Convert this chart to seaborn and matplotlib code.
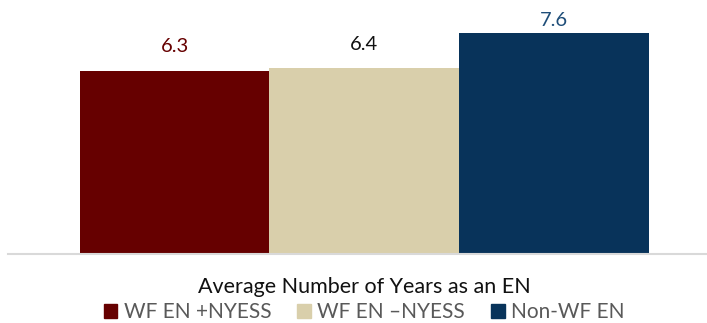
import numpy as np
import pandas as pd
import matplotlib
matplotlib.use("Agg")
import matplotlib.pyplot as plt
import seaborn as sns

category = ["Average Number of Years as an EN"]
groups = ["WF EN +NYESS", "WF EN \u2013NYESS", "Non-WF EN"]
values = [6.3, 6.4, 7.6]
colors = ["#660000", "#D9CFAB", "#08335A"]
label_colors = ["#660000", "#111111", "#1F4E79"]
label_pads = [11, 11, 2.5]  # excel pushes the tallest label down to fit

df = pd.DataFrame({"category": category * len(groups), "group": groups, "value": values})

sns.set_style("white")
plt.rcParams["font.family"] = ["Lato", "DejaVu Sans"]

fig = plt.figure(figsize=(7.07, 3.23), dpi=100)
ax = fig.add_axes([8 / 707, 1 - 254 / 323, 699 / 707, 254 / 323])

sns.barplot(data=df, x="category", y="value", hue="group", palette=colors,
            width=0.8, saturation=1, linewidth=0, ax=ax, legend=False)

for cont, c, p in zip(ax.containers, label_colors, label_pads):
    ax.bar_label(cont, fmt="%.1f", padding=p, fontsize=14.5, color=c)

ax.set_xlim(-0.501, 0.482)
ax.set_ylim(0, 8.73)
ax.set_xlabel("")
ax.set_ylabel("")
ax.set_yticks([])
for s in ["top", "left", "right"]:
    ax.spines[s].set_visible(False)
ax.spines["bottom"].set_color("#D9D9D9")
ax.spines["bottom"].set_linewidth(1.5)
ax.tick_params(axis="x", length=0, pad=16.5, labelsize=15.5, labelcolor="#111111")

handles = [plt.Rectangle((0, 0), 1, 1, color=c) for c in colors]
fig.legend(handles, groups, loc="center", bbox_to_anchor=(0.515, 0.033), ncol=3,
           frameon=False, fontsize=15, labelcolor="#595959",
           handlelength=0.65, handleheight=0.65, handletextpad=0.3, columnspacing=1.25,
           borderpad=0, borderaxespad=0)

fig.savefig("out.png", dpi=100)
